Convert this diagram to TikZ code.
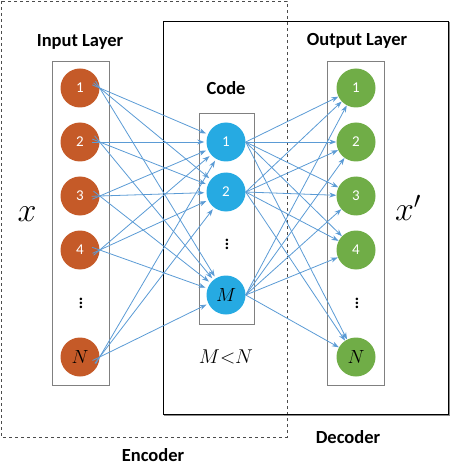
\RequirePackage{fix-cm}
\documentclass[tikz,border=0pt]{standalone}
\usepackage{amsmath}
\usepackage{fontspec}
\setmainfont{Carlito}
\usepackage{tikz}
\usetikzlibrary{arrows.meta}

\definecolor{inorange}{RGB}{197,90,40}
\definecolor{codeblue}{RGB}{38,170,226}
\definecolor{outgreen}{RGB}{112,173,71}
\definecolor{linkblue}{RGB}{91,155,213}

\begin{document}
\begin{tikzpicture}[x=1pt, y=-1pt, >={Stealth[length=7pt, width=5pt]},
    neuron/.style={circle, minimum size=39pt, inner sep=0pt, text=white, font=\fontsize{15}{18}\selectfont},
    mathneuron/.style={neuron, text=black, font=\fontsize{19}{22}\selectfont},
    dotsnode/.style={font=\fontsize{21}{24}\selectfont},
    layerbox/.style={draw=black!50, line width=0.8pt},
    title/.style={font=\fontsize{18.5}{22}\selectfont\bfseries},
    link/.style={->, linkblue, line width=0.8pt}]

    \useasboundingbox (0,0) rectangle (450,462);

    % encoder and decoder frames
    \draw[black!70, dashed, line width=0.6pt] (1,1) rectangle (287,437);
    \draw[black!45, line width=1.6pt] (449,22) -- (449,415) -- (164,415);
    \draw[black, line width=0.7pt] (163,21) rectangle (448,414);

    % layer boxes
    \draw[layerbox] (52,61) rectangle (109,385);
    \draw[layerbox] (199,113) rectangle (254,324);
    \draw[layerbox] (327,61) rectangle (384,385);

    % input layer
    \foreach \n/\y in {1/88, 2/142, 3/196, 4/250}
        \node[neuron, fill=inorange] (in\n) at (80,\y) {\n};
    \node[mathneuron, fill=inorange] (inN) at (80,357) {$N$};
    \node[dotsnode] (indots) at (81,300) {$\vdots$};

    % code layer
    \node[neuron, fill=codeblue] (c1) at (226,142) {1};
    \node[neuron, fill=codeblue] (c2) at (226,192) {2};
    \node[mathneuron, fill=codeblue] (cM) at (226,295) {$M$};
    \node[dotsnode] (cdots) at (227,241) {$\vdots$};

    % output layer
    \foreach \n/\y in {1/88, 2/142, 3/196, 4/250}
        \node[neuron, fill=outgreen] (out\n) at (356,\y) {\n};
    \node[mathneuron, fill=outgreen] (outN) at (356,357) {$N$};
    \node[dotsnode] (outdots) at (357,300) {$\vdots$};

    % connections
    \foreach \i in {in1,in2,in3,in4,inN}
        \foreach \j in {c1,c2,cM}
            \draw[link, shorten <=-8pt, shorten >=2pt] (\i.east) -- (\j);
    \foreach \j in {c1,c2,cM}
        \foreach \k in {out1,out2,out3,out4,outN}
            \draw[link] (\j.east) -- (\k);

    % labels
    \node[title] (inlabel) at (80,42) {Input Layer};
    \node[title] (codelabel) at (226,88) {Code};
    \node[title] (outlabel) at (357,41) {Output Layer};
    \node[title] (declabel) at (348,437) {Decoder};
    \node[title] (enclabel) at (153,455) {Encoder};
    \node[font=\fontsize{34}{38}\selectfont] (xin) at (27,214) {$x$};
    \node[font=\fontsize{34}{38}\selectfont] (xout) at (408,208) {$x'$};
    \node[font=\fontsize{20}{24}\selectfont] (ratio) at (226,357) {$M{<}N$};

\end{tikzpicture}
\end{document}
